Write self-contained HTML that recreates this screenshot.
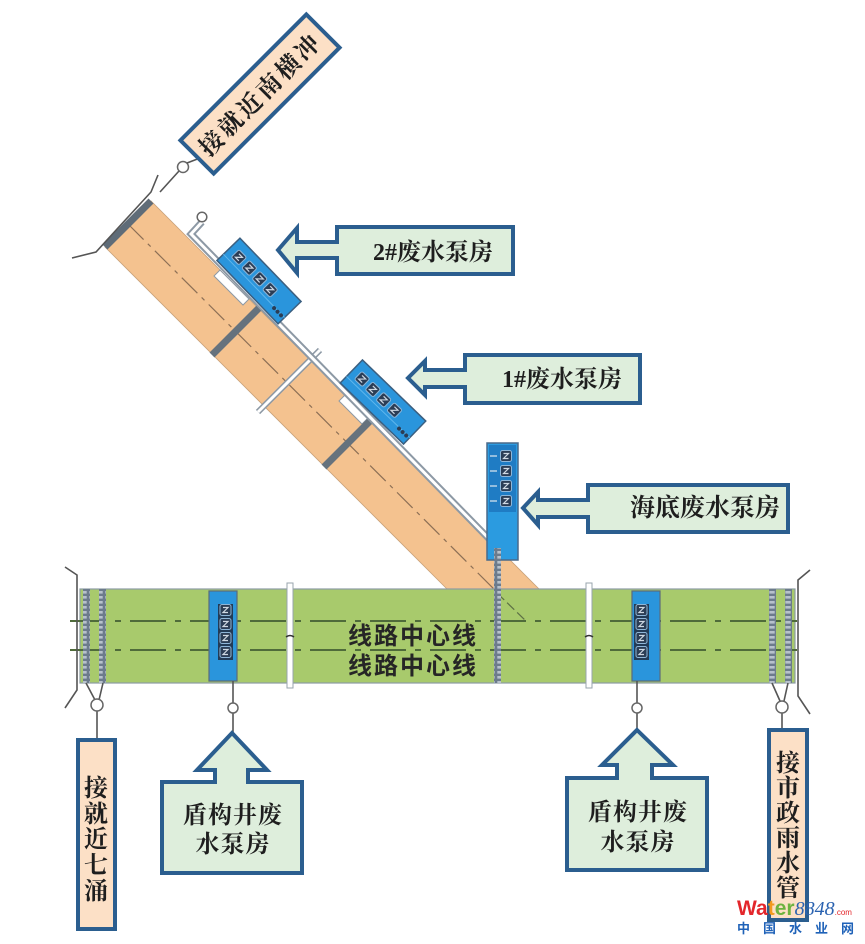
<!DOCTYPE html>
<html><head><meta charset="utf-8">
<style>
html,body{margin:0;padding:0;background:#fff;}
svg{display:block;}
.cn{font-family:"Liberation Serif","Noto Serif CJK SC",serif;font-weight:bold;fill:#1e1e1e;}
.cs{font-family:"Liberation Sans","Noto Sans CJK SC",sans-serif;font-weight:bold;fill:#262626;}
</style></head><body>
<svg width="865" height="944" viewBox="0 0 865 944" xmlns="http://www.w3.org/2000/svg">
<defs>
<pattern id="lad" width="8" height="5" patternUnits="userSpaceOnUse">
<rect width="8" height="5" fill="#6c7b8c"/>
<rect x="1.3" y="1" width="5.4" height="2.6" fill="#b7c1cc"/>
</pattern>
<g id="ico">
<rect x="-5.5" y="-5.5" width="11" height="11" rx="2" fill="#2b3d55" stroke="#8fb6d8" stroke-width="1"/>
<path d="M-2.5,-2.5 L2.5,-2.5 L-2.5,2.5 L2.5,2.5" fill="none" stroke="#cfd8e2" stroke-width="1.2"/>
</g>
</defs>

<!-- Diagonal orange tunnel -->
<polygon points="105,247 151,201 539,589 447,589" fill="#f4c28f" stroke="#c9a27a" stroke-width="0.8"/>
<!-- notches -->
<polygon points="220,270 249,299 243,305 214,276" fill="#fff" stroke="#8d99a5" stroke-width="1"/>
<polygon points="345,395 368,418 362,424 339,401" fill="#fff" stroke="#8d99a5" stroke-width="1"/>
<!-- center dashed line of tunnel -->
<line x1="128" y1="224" x2="526" y2="621" stroke="#8c6f55" stroke-width="1.2" stroke-dasharray="22 6 4 6"/>
<!-- end cap -->
<line x1="105" y1="247" x2="151" y2="201" stroke="#5f6c78" stroke-width="7"/>
<!-- cross sections -->
<line x1="212" y1="355" x2="259" y2="308" stroke="#66727d" stroke-width="7"/>
<line x1="324" y1="467" x2="371" y2="420" stroke="#66727d" stroke-width="7"/>
<!-- white double crossing line -->
<line x1="258" y1="412" x2="320" y2="350" stroke="#8d99a5" stroke-width="6"/>
<line x1="258" y1="412" x2="320" y2="350" stroke="#fff" stroke-width="3"/>
<!-- pipe along upper edge -->
<path d="M202,222 L191,234 L497,547 L497,556" fill="none" stroke="#8d99a5" stroke-width="7" stroke-linejoin="miter"/>
<path d="M202,222 L191,234 L497,547 L497,556" fill="none" stroke="#fff" stroke-width="3"/>
<circle cx="202" cy="217" r="4.8" fill="#fff" stroke="#666" stroke-width="1.5"/>

<!-- top-left bracket & connector -->
<polyline points="72,258 96,252 151,192 158,175" fill="none" stroke="#555" stroke-width="1.6"/>
<line x1="160" y1="192" x2="179" y2="171" stroke="#555" stroke-width="1.6"/>
<circle cx="183" cy="167" r="5.5" fill="#fff" stroke="#666" stroke-width="1.5"/>
<line x1="187" y1="163" x2="200" y2="158" stroke="#555" stroke-width="1.6"/>

<!-- top-left label -->
<g transform="translate(260,94) rotate(-45)">
<rect x="-89" y="-23.5" width="178" height="47" fill="#fce0c6" stroke="#2b5e8f" stroke-width="4"/>
<text x="0" y="9" text-anchor="middle" class="cn" font-size="24" letter-spacing="3">接就近南横冲</text>
</g>

<!-- 2# pump room -->
<g transform="translate(259,281) rotate(46)">
<rect x="-44" y="-16" width="88" height="32" fill="#2a95dc" stroke="#3b5f80" stroke-width="1.5"/>
<line x1="-44" y1="7" x2="44" y2="7" stroke="#5fb6ec" stroke-width="1"/>
<use href="#ico" x="-31" y="-2"/>
<use href="#ico" x="-16" y="-2"/>
<use href="#ico" x="-1" y="-2"/>
<use href="#ico" x="14" y="-2"/>
<circle cx="30" cy="8" r="2" fill="#2b3d55"/><circle cx="35" cy="8" r="2" fill="#2b3d55"/><circle cx="40" cy="8" r="2" fill="#2b3d55"/>
</g>
<!-- 1# pump room -->
<g transform="translate(383,402) rotate(44)">
<rect x="-44" y="-16" width="88" height="32" fill="#2a95dc" stroke="#3b5f80" stroke-width="1.5"/>
<line x1="-44" y1="7" x2="44" y2="7" stroke="#5fb6ec" stroke-width="1"/>
<use href="#ico" x="-31" y="-2"/>
<use href="#ico" x="-16" y="-2"/>
<use href="#ico" x="-1" y="-2"/>
<use href="#ico" x="14" y="-2"/>
<circle cx="30" cy="8" r="2" fill="#2b3d55"/><circle cx="35" cy="8" r="2" fill="#2b3d55"/><circle cx="40" cy="8" r="2" fill="#2b3d55"/>
</g>

<!-- sea-bottom pump room -->
<rect x="487" y="443" width="31" height="117" fill="#2b9be0" stroke="#4a6a8a" stroke-width="1.5"/>
<rect x="489" y="445" width="27" height="67" fill="#1f7cc4"/>
<use href="#ico" x="506" y="456"/>
<use href="#ico" x="506" y="471"/>
<use href="#ico" x="506" y="486"/>
<use href="#ico" x="506" y="501"/>
<g stroke="#dfe8f0" stroke-width="1.2">
<line x1="490" y1="456" x2="497" y2="456"/><line x1="490" y1="471" x2="497" y2="471"/>
<line x1="490" y1="486" x2="497" y2="486"/><line x1="490" y1="501" x2="497" y2="501"/>
</g>

<!-- Green main tunnel -->
<rect x="80" y="589" width="715" height="94" fill="#a8ca6c" stroke="#8c9ba3" stroke-width="1.2"/>
<!-- dashed center lines -->
<line x1="70" y1="621" x2="797" y2="621" stroke="#4f6b3a" stroke-width="2" stroke-dasharray="36 9 6 9"/>
<line x1="70" y1="650" x2="797" y2="650" stroke="#4f6b3a" stroke-width="2" stroke-dasharray="36 9 6 9"/>
<!-- diagonal continuation into green -->
<line x1="497" y1="593" x2="526" y2="621" stroke="#5d7045" stroke-width="1.2" stroke-dasharray="10 4"/>

<!-- ladders -->
<rect x="83" y="589" width="7" height="94" fill="url(#lad)"/>
<rect x="99" y="589" width="7" height="94" fill="url(#lad)"/>
<rect x="769" y="589" width="7" height="94" fill="url(#lad)"/>
<rect x="785" y="589" width="7" height="94" fill="url(#lad)"/>
<rect x="494" y="548" width="7" height="135" fill="url(#lad)"/>

<!-- vertical white double lines -->
<rect x="287" y="583" width="6" height="105" fill="#fff" stroke="#98a4ae" stroke-width="1"/>
<rect x="586" y="583" width="6" height="105" fill="#fff" stroke="#98a4ae" stroke-width="1"/>
<path d="M286,637 q4,-3 8,0" stroke="#333" stroke-width="1.5" fill="none"/>
<path d="M585,637 q4,-3 8,0" stroke="#333" stroke-width="1.5" fill="none"/>

<!-- shaft pump rooms in green -->
<rect x="209" y="591" width="28" height="90" fill="#2a95dc" stroke="#5b6b7b" stroke-width="1.2"/>
<rect x="218" y="604" width="15" height="56" fill="#233b56"/>
<use href="#ico" x="225.5" y="610"/><use href="#ico" x="225.5" y="624"/><use href="#ico" x="225.5" y="638"/><use href="#ico" x="225.5" y="652"/>
<rect x="632" y="591" width="28" height="90" fill="#2a95dc" stroke="#5b6b7b" stroke-width="1.2"/>
<rect x="634" y="604" width="15" height="56" fill="#233b56"/>
<use href="#ico" x="641.5" y="610"/><use href="#ico" x="641.5" y="624"/><use href="#ico" x="641.5" y="638"/><use href="#ico" x="641.5" y="652"/>

<!-- main text -->
<text x="413" y="644" text-anchor="middle" class="cs" font-size="24" letter-spacing="2">线路中心线</text>
<text x="413" y="674" text-anchor="middle" class="cs" font-size="24" letter-spacing="2">线路中心线</text>

<!-- brackets -->
<polyline points="65,567 77,575 77,690 65,708" fill="none" stroke="#555" stroke-width="1.6"/>
<polyline points="810,570 798,580 798,696 810,714" fill="none" stroke="#555" stroke-width="1.6"/>

<!-- connectors -->
<g stroke="#555" stroke-width="1.6" fill="none">
<line x1="86" y1="683" x2="95" y2="700"/><line x1="103" y1="683" x2="99" y2="700"/>
<line x1="97" y1="711" x2="97" y2="740"/>
<line x1="233" y1="681" x2="233" y2="703"/><line x1="233" y1="713" x2="233" y2="733"/>
<line x1="637" y1="681" x2="637" y2="703"/><line x1="637" y1="713" x2="637" y2="730"/>
<line x1="772" y1="683" x2="780" y2="701"/><line x1="788" y1="683" x2="784" y2="701"/>
<line x1="782" y1="713" x2="782" y2="730"/>
</g>
<circle cx="97" cy="705" r="6" fill="#fff" stroke="#666" stroke-width="1.5"/>
<circle cx="233" cy="708" r="5" fill="#fff" stroke="#666" stroke-width="1.5"/>
<circle cx="637" cy="708" r="5" fill="#fff" stroke="#666" stroke-width="1.5"/>
<circle cx="782" cy="707" r="6" fill="#fff" stroke="#666" stroke-width="1.5"/>

<!-- left arrow callouts -->
<polygon points="278,250 297,228 297,242 337,242 337,227 513,227 513,274 337,274 337,258 297,258 297,273" fill="#deeedc" stroke="#2b5e8f" stroke-width="4" stroke-linejoin="miter"/>
<text x="493" y="260" text-anchor="end" class="cn" font-size="24">2#废水泵房</text>

<polygon points="408,378 425,361 425,370 465,370 465,355 640,355 640,403 465,403 465,387 425,387 425,395" fill="#deeedc" stroke="#2b5e8f" stroke-width="4" stroke-linejoin="miter"/>
<text x="622" y="387" text-anchor="end" class="cn" font-size="24">1#废水泵房</text>

<polygon points="523,508 538,492 538,500 588,500 588,485 788,485 788,532 588,532 588,517 538,517 538,525" fill="#deeedc" stroke="#2b5e8f" stroke-width="4" stroke-linejoin="miter"/>
<text x="780" y="516" text-anchor="end" class="cn" font-size="25">海底废水泵房</text>

<!-- up arrow callouts -->
<polygon points="232,733 267,770 248,770 248,782 302,782 302,873 162,873 162,782 215,782 215,770 197,770" fill="#deeedc" stroke="#2b5e8f" stroke-width="4" stroke-linejoin="miter"/>
<text x="233" y="823" text-anchor="middle" class="cn" font-size="24" letter-spacing="1">盾构井废</text>
<text x="233" y="852" text-anchor="middle" class="cn" font-size="24" letter-spacing="1">水泵房</text>

<polygon points="637,730 673,765 652,765 652,778 707,778 707,870 567,870 567,778 617,778 617,765 602,765" fill="#deeedc" stroke="#2b5e8f" stroke-width="4" stroke-linejoin="miter"/>
<text x="638" y="820" text-anchor="middle" class="cn" font-size="24" letter-spacing="1">盾构井废</text>
<text x="638" y="850" text-anchor="middle" class="cn" font-size="24" letter-spacing="1">水泵房</text>

<!-- vertical labels -->
<rect x="78" y="740" width="37" height="189" fill="#fce0c6" stroke="#2b5e8f" stroke-width="4"/>
<g class="cn" font-size="24" text-anchor="middle">
<text x="96" y="796">接</text><text x="96" y="822">就</text><text x="96" y="847">近</text><text x="96" y="873">七</text><text x="96" y="899">涌</text>
</g>
<rect x="769" y="730" width="38" height="190" fill="#fce0c6" stroke="#2b5e8f" stroke-width="4"/>
<g class="cn" font-size="24" text-anchor="middle">
<text x="788" y="771">接</text><text x="788" y="796">市</text><text x="788" y="821">政</text><text x="788" y="846">雨</text><text x="788" y="871">水</text><text x="788" y="896">管</text>
</g>

<!-- watermark -->
<text x="737" y="915" font-family="Liberation Sans, sans-serif" font-weight="bold" font-size="21"><tspan fill="#e3262b">Wa</tspan><tspan fill="#f29a1e">t</tspan><tspan fill="#6db33f">er</tspan><tspan fill="#2a62b0" font-family="Liberation Serif, serif" font-style="italic" font-weight="normal" font-size="20">8848</tspan><tspan fill="#e3262b" font-size="8" font-weight="normal">.com</tspan></text>
<text x="737" y="933" font-family="Liberation Sans, 'Noto Sans CJK SC', sans-serif" font-weight="bold" font-size="13" fill="#1f62b8" letter-spacing="13">中国水业网</text>
</svg>
</body></html>
